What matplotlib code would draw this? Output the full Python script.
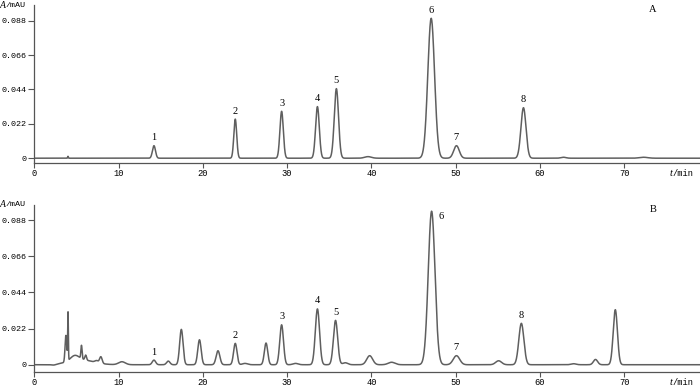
import numpy as np
import matplotlib
matplotlib.use('Agg')
import matplotlib.pyplot as plt

# peak tables: retention time (min), height (AU), sigma (min)
TEMPOS_A = [4.0, 14.2, 23.85, 29.35, 33.6, 35.85, 39.6, 47.1, 50.1, 58.05, 62.8, 72.3]
ALTURAS_A = [0.0012, 0.008, 0.025, 0.030, 0.033, 0.0445, 0.001, 0.0895, 0.008, 0.0323, 0.0006, 0.0006]
SIGMAS_A = [0.04, 0.18, 0.17, 0.2, 0.22, 0.25, 0.4, 0.4, 0.33, 0.3, 0.3, 0.5]

TEMPOS_B = [2.3, 3.75, 4.0, 5.5, 4.8, 5.6, 6.1, 7.4, 7.9, 10.4, 14.2, 15.9, 17.45, 19.6, 21.8,
            23.85, 25.0, 27.5, 29.35, 31.0, 33.6, 35.75, 36.9, 39.8, 42.4, 47.15, 50.1,
            55.1, 57.8, 64.0, 66.6, 68.95]
ALTURAS_B = [-0.0005, 0.016, 0.029, 0.003, 0.003, 0.008, 0.003, 0.0012, 0.004, 0.0018, 0.0028, 0.0022,
             0.0215, 0.0152, 0.0085, 0.013, 0.0008, 0.0132, 0.0243, 0.0008, 0.034, 0.027,
             0.0012, 0.0055, 0.0015, 0.0935, 0.0055, 0.0024, 0.0252, 0.0006, 0.0032, 0.0335]
SIGMAS_B = [0.3, 0.1, 0.04, 1.5, 0.5, 0.07, 0.1, 0.2, 0.15, 0.4, 0.2, 0.2, 0.2, 0.2, 0.22,
            0.2, 0.3, 0.2, 0.22, 0.3, 0.25, 0.25, 0.3, 0.35, 0.4, 0.4, 0.38, 0.35, 0.3,
            0.3, 0.25, 0.25]

# numbered peaks
ROTULOS = ['1', '2', '3', '4', '5', '6', '7', '8']
PICOS_A = [14.2, 23.85, 29.35, 33.6, 35.85, 47.1, 50.1, 58.05]
PICOS_B = [14.2, 23.85, 29.35, 33.6, 35.75, 47.15, 50.1, 57.8]

Y_TICKS = [0, 0.022, 0.044, 0.066, 0.088]
Y_LABELS = ['0', '0.022', '0.044', '0.066', '0.088']
X_TICKS = [0, 10, 20, 30, 40, 50, 60, 70]

COR = '#5f5f5f'
MONO = 'Liberation Mono'
SERIF = 'Liberation Serif'


def Cromatograma(t, tempos, alturas, sigmas):
    sinal = np.zeros_like(t)
    for t0, h, s in zip(tempos, alturas, sigmas):
        sinal += h * np.exp(-0.5 * ((t - t0) / s) ** 2)
    return sinal


def Eixo(ax, t, sinal, picos, letra, ylim, rotulo6_lado=False):
    ax.plot(t, sinal, color=COR, linewidth=1.1)
    ax.set_xlim(0, 79)
    ax.set_ylim(*ylim)
    for lado in ['top', 'right']:
        ax.spines[lado].set_visible(False)
    for lado in ['left', 'bottom']:
        ax.spines[lado].set_color('#555555')
        ax.spines[lado].set_linewidth(0.9)
    ax.set_yticks(Y_TICKS)
    ax.set_yticklabels(Y_LABELS, fontfamily=MONO, fontsize=6)
    ax.set_xticks(X_TICKS)
    ax.set_xticklabels([str(v) for v in X_TICKS], fontfamily=MONO, fontsize=6.3)
    ax.tick_params(axis='y', length=4.3, width=0.8, color='#555555', pad=1)
    ax.tick_params(axis='x', length=3.6, width=0.8, color='#555555', pad=1)

    for rot, tp in zip(ROTULOS, picos):
        janela = (t > tp - 0.6) & (t < tp + 0.6)
        i = np.argmax(np.where(janela, sinal, -1))
        if rotulo6_lado and rot == '6':
            ax.annotate(rot, (t[i], sinal[i]), xytext=(5, -4), textcoords='offset points',
                        ha='left', va='center', fontfamily=SERIF, fontsize=7.5)
        else:
            ax.annotate(rot, (t[i], sinal[i]), xytext=(0, 2.5), textcoords='offset points',
                        ha='center', va='bottom', fontfamily=SERIF, fontsize=7.5)

    ax.text(73.4, 0.97, letra, transform=ax.get_xaxis_transform(), ha='center', va='center',
            fontfamily=SERIF, fontsize=7.5)
    # axis titles: italic symbol + unit
    ax.text(-0.043, 1.0, '/mAU', transform=ax.transAxes, ha='left', va='center',
            fontfamily=MONO, fontsize=6)
    ax.text(-0.043, 1.0, 'A', transform=ax.transAxes, ha='right', va='center',
            fontfamily=SERIF, fontstyle='italic', fontsize=7)
    ax.annotate('t', (0.959, 0), xycoords='axes fraction', xytext=(0, -7.5),
                textcoords='offset points', ha='right', va='center',
                fontfamily=SERIF, fontstyle='italic', fontsize=7.5)
    ax.annotate('/min', (0.959, 0), xycoords='axes fraction', xytext=(0, -7.5),
                textcoords='offset points', ha='left', va='center',
                fontfamily=MONO, fontsize=6.3)


def main():
    t = np.linspace(0, 79, 6000)
    sinalA = Cromatograma(t, TEMPOS_A, ALTURAS_A, SIGMAS_A)
    sinalB = Cromatograma(t, TEMPOS_B, ALTURAS_B, SIGMAS_B)

    fig = plt.figure(figsize=(7, 3.86), dpi=100)
    axA = fig.add_axes([0.049, 0.578, 0.951, 0.409])
    axB = fig.add_axes([0.049, 0.036, 0.951, 0.433])

    Eixo(axA, t, sinalA, PICOS_A, 'A', (-0.003, 0.098))
    Eixo(axB, t, sinalB, PICOS_B, 'B', (-0.0045, 0.0973), rotulo6_lado=True)

    fig.savefig('out.png', dpi=100)


main()
